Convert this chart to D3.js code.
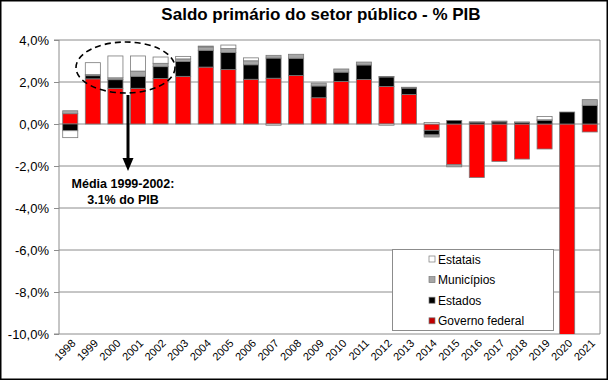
<!DOCTYPE html>
<html><head><meta charset="utf-8">
<script src="https://cdn.jsdelivr.net/npm/d3@7"></script>
<style>body{margin:0;background:#fff;} svg{display:block;font-family:"Liberation Sans",Arial,sans-serif;}</style>
</head><body>
<svg id="c" width="608" height="380"></svg>
<script>
const years = ["1998","1999","2000","2001","2002","2003","2004","2005","2006","2007","2008","2009","2010","2011","2012","2013","2014","2015","2016","2017","2018","2019","2020","2021"];
const governoFederal = [0.49,2.15,1.70,1.70,2.17,2.27,2.71,2.59,2.13,2.18,2.31,1.25,2.03,2.12,1.79,1.41,-0.30,-1.94,-2.55,-1.78,-1.67,-1.19,-10.2,-0.38];
const estados        = [-0.32,0.15,0.41,0.57,0.56,0.71,0.80,0.81,0.69,0.96,0.82,0.56,0.44,0.69,0.45,0.30,-0.22,0.17,0.09,0.10,0.07,0.18,0.57,0.89];
const municipios     = [0.14,0.05,0.09,0.25,0.16,0.12,0.16,0.19,0.19,0.13,0.19,0.14,0.15,0.14,0.02,0.04,-0.10,-0.10,0.01,0.04,0.03,0.02,0.00,0.27];
const estatais       = [-0.33,0.57,1.04,0.72,0.30,0.12,0.04,0.17,0.14,-0.06,0.00,0.00,0.00,0.00,-0.06,0.00,0.07,0.00,0.00,0.00,0.00,0.16,0.00,0.00];
const seriesNames = ["Governo federal","Estados","Municípios","Estatais"];
const seriesColors = ["#ff0000","#000000","#a6a6a6","#ffffff"];
const yTicks = [-10,-8,-6,-4,-2,0,2,4];
const yTickLabels = ["-10,0%","-8,0%","-6,0%","-4,0%","-2,0%","0,0%","2,0%","4,0%"];
const title = "Saldo primário do setor público - % PIB";
const noteLines = ["Média 1999-2002:","3.1% do PIB"];

const svg = d3.select("#c");
const W=608,H=380;
const L=59,R=600,T=40,B=334;

svg.append("rect").attr("x",0.75).attr("y",0.75).attr("width",W-1.5).attr("height",H-1.5)
  .attr("fill","#fff").attr("stroke","#000").attr("stroke-width",1.5);

const x = d3.scaleBand().domain(years).range([L+1,R]).paddingInner(0.333).paddingOuter(0.12);
const y = d3.scaleLinear().domain([-10,4]).range([B,T]);

// gridlines
svg.append("g").selectAll("line").data(yTicks).join("line")
  .attr("x1",L).attr("x2",R).attr("y1",d=>y(d)).attr("y2",d=>y(d))
  .attr("stroke","#8c8c8c").attr("stroke-width",1);
svg.append("line").attr("x1",R).attr("x2",R).attr("y1",T).attr("y2",B).attr("stroke","#8c8c8c");

// data table
const table = years.map((yr,i)=>({year:yr,"Governo federal":governoFederal[i],"Estados":estados[i],"Municípios":municipios[i],"Estatais":estatais[i]}));
const stack = d3.stack().keys(seriesNames).offset(d3.stackOffsetDiverging)(table);

svg.append("clipPath").attr("id","clip").append("rect").attr("x",L).attr("y",T).attr("width",R-L).attr("height",B-T);
const gBars = svg.append("g").attr("clip-path","url(#clip)");
stack.forEach((s,si)=>{
  gBars.append("g").selectAll("rect").data(s.filter(d=>Math.abs(d[1]-d[0])>0.001)).join("rect")
    .attr("x",d=>x(d.data.year)).attr("width",x.bandwidth())
    .attr("y",d=>y(Math.max(d[0],d[1]))).attr("height",d=>Math.abs(y(d[0])-y(d[1])))
    .attr("fill",seriesColors[si]).attr("stroke","#7a7a7a").attr("stroke-width",0.8);
});

// y axis
const yAxis = d3.axisLeft(y).tickValues(yTicks).tickFormat((d,i)=>yTickLabels[i]).tickSize(5).tickPadding(5);
const ga = svg.append("g").attr("transform",`translate(${L},0)`).call(yAxis);
ga.select(".domain").attr("stroke","#8c8c8c").attr("d",`M-5,${T}H0V${B}H-5`);
ga.selectAll(".tick line").attr("stroke","#8c8c8c");
ga.selectAll("text").attr("font-size",13).attr("fill","#000").attr("font-family","Liberation Sans, Arial");

// x axis labels
const xAxis = d3.axisBottom(x).tickSize(0).tickPadding(0);
const gx = svg.append("g").attr("transform",`translate(0,${B})`).call(xAxis);
gx.select(".domain").remove();
gx.selectAll("text").attr("font-size",11).attr("fill","#000").attr("font-family","Liberation Sans, Arial")
  .attr("text-anchor","end").attr("dy",0).attr("y",0)
  .attr("transform","translate(6,10) rotate(-45)");

// title
svg.append("text").attr("x",321).attr("y",20).attr("text-anchor","middle")
  .attr("font-size",17).attr("font-weight","bold").text(title);

// legend
const lg = svg.append("g");
lg.append("rect").attr("x",392.5).attr("y",249.5).attr("width",161).attr("height",81)
  .attr("fill","#fff").attr("stroke","#8c8c8c");
const legOrder = ["Estatais","Municípios","Estados","Governo federal"];
const legColors = {"Estatais":"#ffffff","Municípios":"#a6a6a6","Estados":"#000000","Governo federal":"#c00000"};
legOrder.forEach((n,i)=>{
  const cy = 259 + i*20.6;
  lg.append("rect").attr("x",429).attr("y",cy-3).attr("width",6).attr("height",6)
    .attr("fill",legColors[n]).attr("stroke","#7a7a7a").attr("stroke-width",0.7);
  lg.append("text").attr("x",438).attr("y",cy+4.5).attr("font-size",12).text(n);
});

// annotation
svg.append("ellipse").attr("cx",125.5).attr("cy",67.5).attr("rx",49.5).attr("ry",25.5)
  .attr("fill","none").attr("stroke","#000").attr("stroke-width",1.6).attr("stroke-dasharray","6,4");
svg.append("line").attr("x1",128).attr("x2",128).attr("y1",95).attr("y2",160)
  .attr("stroke","#000").attr("stroke-width",3);
svg.append("path").attr("d","M122.5,158 L133.5,158 L128,171 Z").attr("fill","#000");
svg.append("text").attr("x",123).attr("y",188).attr("text-anchor","middle").attr("font-size",12.5)
  .attr("font-weight","bold").text(noteLines[0]);
svg.append("text").attr("x",123).attr("y",204).attr("text-anchor","middle").attr("font-size",12.5)
  .attr("font-weight","bold").text(noteLines[1]);
</script>
</body></html>
